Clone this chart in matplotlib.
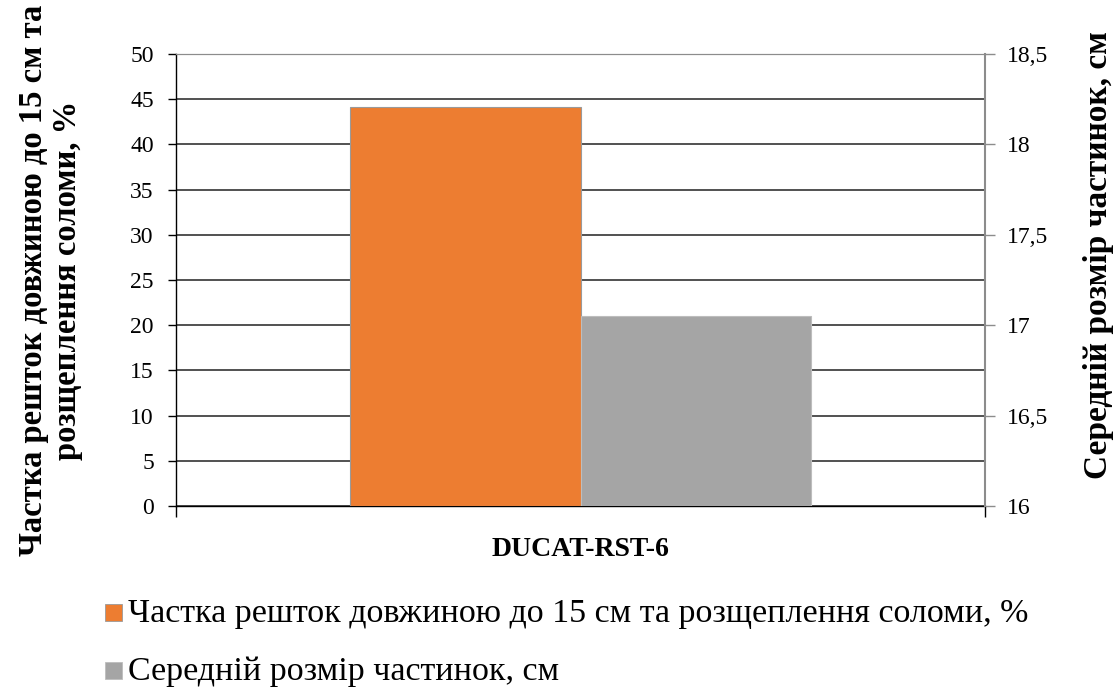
import matplotlib
matplotlib.use("Agg")
import matplotlib.pyplot as plt
from matplotlib.patches import Rectangle
from matplotlib.ticker import FuncFormatter

plt.rcParams['font.family'] = ['Liberation Serif', 'DejaVu Serif']

# --- data ---
category = "DUCAT-RST-6"
share_label = "Частка решток довжиною до 15 см та розщеплення соломи, %"
size_label = "Середній розмір частинок, см"
left_axis_label = "Частка решток довжиною до 15 см та\nрозщеплення соломи, %"
share_values = [44.1]      # left axis, %
size_values = [17.05]      # right axis, cm
left_ticks = [0, 5, 10, 15, 20, 25, 30, 35, 40, 45, 50]
right_ticks = [16, 16.5, 17, 17.5, 18, 18.5]

color_share = '#ED7D31'
color_size = '#A5A5A5'
bar_w = 0.285

W, H = 1117, 688
fig = plt.figure(figsize=(W / 100, H / 100), dpi=100)
ax = fig.add_axes([0.1576, 0.2645, 0.7242, 0.657])
ax2 = ax.twinx()

ax.bar([-bar_w / 2], share_values, width=bar_w, color=color_share,
       edgecolor='#9a9a9a', linewidth=0.8, zorder=3)
ax2.bar([bar_w / 2], size_values, width=bar_w, color=color_size,
        edgecolor='#bdbdbd', linewidth=0.8, zorder=3)

ax.set_xlim(-0.5, 0.5)
ax.set_ylim(0, 50)
ax.set_yticks(left_ticks)
ax2.set_ylim(16, 18.5)
ax2.set_yticks(right_ticks)
ax2.yaxis.set_major_formatter(FuncFormatter(lambda v, p: f"{v:g}".replace('.', ',')))

ax.yaxis.grid(True, color='#222222', linewidth=1.1, zorder=0)
ax.set_axisbelow(True)

# category ticks at the ends, label in the middle
ax.set_xticks([-0.5, 0.5])
ax.set_xticklabels(['', ''])
ax.set_xticks([0], minor=True)
ax.set_xticklabels([category], minor=True, fontsize=20, fontweight='bold')
ax.tick_params(axis='x', which='major', length=8, width=1, color='black', direction='out')
ax.tick_params(axis='x', which='minor', length=0, pad=22)

ax.tick_params(axis='y', length=6, width=1, color='black', labelsize=17, pad=10)
ax2.tick_params(axis='y', length=7, width=1, color='#8c8c8c', labelsize=17, pad=9)

for s in ['left', 'bottom']:
    ax.spines[s].set_color('black')
    ax.spines[s].set_linewidth(1.0)
ax.spines['top'].set_color('#8c8c8c')
ax.spines['right'].set_visible(False)
ax2.spines['left'].set_visible(False)
ax2.spines['bottom'].set_visible(False)
ax2.spines['top'].set_color('#8c8c8c')
ax2.spines['right'].set_color('#8c8c8c')
ax2.spines['right'].set_linewidth(1.5)

fig.text(0.045, 0.593, left_axis_label, rotation=90, ha='center', va='center',
         fontsize=23.5, fontweight='bold', linespacing=1.12)
fig.text(0.983, 0.629, size_label, rotation=90, ha='center', va='center',
         fontsize=24, fontweight='bold')

# legend below the plot
legend_rows = [(share_label, color_share, '#9a9a9a', 622),
               (size_label, color_size, '#bdbdbd', 680)]
for text, fc, ec, base in legend_rows:
    fig.patches.append(Rectangle((105 / W, 1 - (base - 1) / H), 17 / W, 17 / H,
                                 transform=fig.transFigure, facecolor=fc,
                                 edgecolor=ec, linewidth=0.6))
    fig.text(128 / W, 1 - base / H, text, ha='left', va='baseline', fontsize=24.5)

fig.savefig('out.png', dpi=100)
